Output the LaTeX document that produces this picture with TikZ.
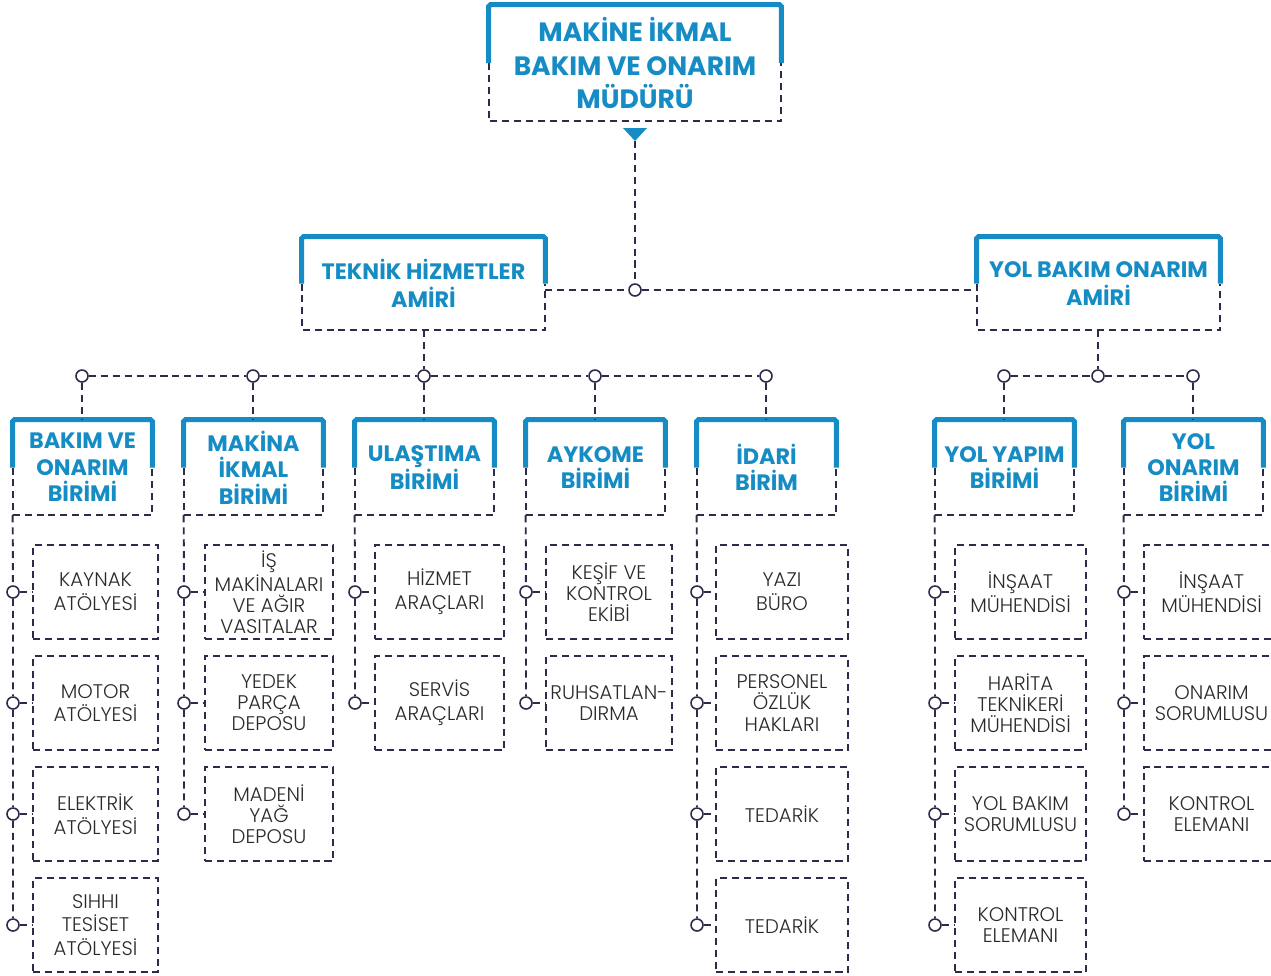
\documentclass[tikz,border=0pt]{standalone}
\usepackage{fontspec}
\setmainfont{Poppins}
\IfFontExistsTF{Poppins Light}{\newfontfamily\ince{Poppins Light}}{\newfontfamily\ince{Poppins}}
\usepackage{tikz}
\definecolor{Mavi}{HTML}{168CC5}
\definecolor{Cizgi}{HTML}{2D2A4A}
\definecolor{Yazi}{HTML}{2A2A2A}

% blue bracket on top, dashed frame below
\newcommand\birimframe[1]{%
  \draw [link] (#1.west) |- (#1.south) -| (#1.east);
  \draw [bar] (#1.west) |- (#1.north) -| (#1.east);
}

\begin{document}
\begin{tikzpicture}[x=0.02cm,y=-0.02cm,
  link/.style={draw=Cizgi,line width=1.1pt,dash pattern=on 4pt off 2.8pt},
  bar/.style={draw=Mavi,line width=2.8pt,rounded corners=1pt},
  dot/.style={circle,draw=Cizgi,fill=white,line width=0.9pt,minimum size=0.24cm,inner sep=0pt},
  head/.style={align=center,text=Mavi,font=\bfseries\fontsize{12.7}{15}\selectfont,minimum width=2.78cm,minimum height=1.9cm,inner sep=0pt},
  item/.style={link,align=center,text=Yazi,font=\ince\fontsize{11.2}{13.5}\selectfont,minimum width=2.54cm,minimum height=1.88cm,inner sep=0pt},
  tight/.style={font=\ince\fontsize{11.2}{12}\selectfont}
]
\clip (0,0) rectangle (1271,975);

% mudur
\node [head,font=\bfseries\fontsize{15.1}{19.3}\selectfont,minimum width=5.84cm,minimum height=2.32cm] (mudur) at (635,63) {MAKİNE İKMAL\\BAKIM VE ONARIM\\MÜDÜRÜ};
\birimframe{mudur}
\coordinate (tip) at (635,141);
\fill [Mavi] (623,128) -- (647,128) -- (tip) -- cycle;

% amirler
\node [head,font=\bfseries\fontsize{12.7}{16}\selectfont,minimum width=4.86cm,minimum height=1.86cm,text depth=-6pt] (teknik) at (423.5,283.5) {TEKNİK HİZMETLER\\AMİRİ};
\node [head,font=\bfseries\fontsize{12.7}{16}\selectfont,minimum width=4.86cm,minimum height=1.86cm,text depth=-6pt] (yolamir) at (1098.5,283.5) {YOL BAKIM ONARIM\\AMİRİ};
\birimframe{teknik}
\birimframe{yolamir}

\node [dot] (j0) at (635,290) {};
\draw [link] (tip) -- (j0);
\draw [link] (j0 -| teknik.east) -- (j0) -- (j0 -| yolamir.west);

% birimler
\node [head] (bakim) at (82.5,467.5) {BAKIM VE\\ONARIM\\BİRİMİ};
\node [head] (makina) at (253.5,467.5) {MAKİNA\\İKMAL\\BİRİMİ};
\node [head] (ulastima) at (424.5,467.5) {ULAŞTIMA\\BİRİMİ};
\node [head] (aykome) at (595.5,467.5) {AYKOME\\BİRİMİ};
\node [head] (idari) at (766.5,467.5) {İDARİ\\BİRİM};
\node [head] (yolyapim) at (1004.5,467.5) {YOL YAPIM\\BİRİMİ};
\node [head] (yolonarim) at (1193.5,467.5) {YOL\\ONARIM\\BİRİMİ};
\birimframe{bakim}
\birimframe{makina}
\birimframe{ulastima}
\birimframe{aykome}
\birimframe{idari}
\birimframe{yolyapim}
\birimframe{yolonarim}

\node [dot] (j1) at (82,376) {};
\node [dot] (j2) at (253,376) {};
\node [dot] (j3) at (424,376) {};
\node [dot] (j4) at (595,376) {};
\node [dot] (j5) at (766,376) {};
\draw [link] (j1) -- (j2) -- (j3) -- (j4) -- (j5);
\draw [link] (teknik.south -| j3) -- (j3);
\draw [link] (j1) -- (j1 |- bakim.north);
\draw [link] (j2) -- (j2 |- makina.north);
\draw [link] (j3) -- (j3 |- ulastima.north);
\draw [link] (j4) -- (j4 |- aykome.north);
\draw [link] (j5) -- (j5 |- idari.north);

\node [dot] (k1) at (1004,376) {};
\node [dot] (k2) at (1098,376) {};
\node [dot] (k3) at (1193,376) {};
\draw [link] (k1) -- (k2) -- (k3);
\draw [link] (yolamir.south -| k2) -- (k2);
\draw [link] (k1) -- (k1 |- yolyapim.north);
\draw [link] (k3) -- (k3 |- yolonarim.north);

% bakim ve onarim
\node [item,minimum width=2.5cm] (kaynak) at (95.5,592) {KAYNAK\\ATÖLYESİ};
\node [item,minimum width=2.5cm] (motor) at (95.5,703) {MOTOR\\ATÖLYESİ};
\node [item,minimum width=2.5cm] (elektrik) at (95.5,814) {ELEKTRİK\\ATÖLYESİ};
\node [item,minimum width=2.5cm] (sihhi) at (95.5,925) {SIHHI\\TESİSET\\ATÖLYESİ};
\node [dot] (b1) at (13,592) {};
\node [dot] (b2) at (13,703) {};
\node [dot] (b3) at (13,814) {};
\node [dot] (b4) at (13,925) {};
\draw [link] (bakim.south west) -- (b1) -- (b2) -- (b3) -- (b4);
\draw [link] (b1) -- (kaynak);
\draw [link] (b2) -- (motor);
\draw [link] (b3) -- (elektrik);
\draw [link] (b4) -- (sihhi);

% makina ikmal
\node [item,tight,minimum width=2.56cm] (ismak) at (269,592) {İŞ\\MAKİNALARI\\VE AĞIR\\VASITALAR};
\node [item,tight,minimum width=2.56cm] (yedek) at (269,703) {YEDEK\\PARÇA\\DEPOSU};
\node [item,tight,minimum width=2.56cm] (maden) at (269,814) {MADENİ\\YAĞ\\DEPOSU};
\node [dot] (m1) at (184,592) {};
\node [dot] (m2) at (184,703) {};
\node [dot] (m3) at (184,814) {};
\draw [link] (makina.south west) -- (m1) -- (m2) -- (m3);
\draw [link] (m1) -- (ismak);
\draw [link] (m2) -- (yedek);
\draw [link] (m3) -- (maden);

% ulastima
\node [item,minimum width=2.58cm] (hizmet) at (439.5,592) {HİZMET\\ARAÇLARI};
\node [item,minimum width=2.58cm] (servis) at (439.5,703) {SERVİS\\ARAÇLARI};
\node [dot] (u1) at (355,592) {};
\node [dot] (u2) at (355,703) {};
\draw [link] (ulastima.south west) -- (u1) -- (u2);
\draw [link] (u1) -- (hizmet);
\draw [link] (u2) -- (servis);

% aykome
\node [item,tight,minimum width=2.52cm] (kesif) at (609,592) {KEŞİF VE\\KONTROL\\EKİBİ};
\node [item,tight,minimum width=2.52cm] (ruhsat) at (609,703) {RUHSATLAN-\\DIRMA};
\node [dot] (a1) at (526,592) {};
\node [dot] (a2) at (526,703) {};
\draw [link] (aykome.south west) -- (a1) -- (a2);
\draw [link] (a1) -- (kesif);
\draw [link] (a2) -- (ruhsat);

% idari
\node [item,minimum width=2.64cm] (yazi) at (782,592) {YAZI\\BÜRO};
\node [item,tight,minimum width=2.64cm] (personel) at (782,703) {PERSONEL\\ÖZLÜK\\HAKLARI};
\node [item,minimum width=2.64cm] (tedarik) at (782,814) {TEDARİK};
\node [item,minimum width=2.64cm] (tedarikb) at (782,925) {TEDARİK};
\node [dot] (i1) at (697,592) {};
\node [dot] (i2) at (697,703) {};
\node [dot] (i3) at (697,814) {};
\node [dot] (i4) at (697,925) {};
\draw [link] (idari.south west) -- (i1) -- (i2) -- (i3) -- (i4);
\draw [link] (i1) -- (yazi);
\draw [link] (i2) -- (personel);
\draw [link] (i3) -- (tedarik);
\draw [link] (i4) -- (tedarikb);

% yol yapim
\node [item,minimum width=2.62cm] (insaat) at (1020.5,592) {İNŞAAT\\MÜHENDİSİ};
\node [item,tight,minimum width=2.62cm] (harita) at (1020.5,703) {HARİTA\\TEKNİKERİ\\MÜHENDİSİ};
\node [item,tight,minimum width=2.62cm] (yolbakim) at (1020.5,814) {YOL BAKIM\\SORUMLUSU};
\node [item,tight,minimum width=2.62cm] (kontrol) at (1020.5,925) {KONTROL\\ELEMANI};
\node [dot] (y1) at (935,592) {};
\node [dot] (y2) at (935,703) {};
\node [dot] (y3) at (935,814) {};
\node [dot] (y4) at (935,925) {};
\draw [link] (yolyapim.south west) -- (y1) -- (y2) -- (y3) -- (y4);
\draw [link] (y1) -- (insaat);
\draw [link] (y2) -- (harita);
\draw [link] (y3) -- (yolbakim);
\draw [link] (y4) -- (kontrol);

% yol onarim
\node [item,minimum width=2.7cm] (insaatb) at (1211.5,592) {İNŞAAT\\MÜHENDİSİ};
\node [item,tight,minimum width=2.7cm] (onarim) at (1211.5,703) {ONARIM\\SORUMLUSU};
\node [item,tight,minimum width=2.7cm] (kontrolb) at (1211.5,814) {KONTROL\\ELEMANI};
\node [dot] (o1) at (1124,592) {};
\node [dot] (o2) at (1124,703) {};
\node [dot] (o3) at (1124,814) {};
\draw [link] (yolonarim.south west) -- (o1) -- (o2) -- (o3);
\draw [link] (o1) -- (insaatb);
\draw [link] (o2) -- (onarim);
\draw [link] (o3) -- (kontrolb);

\end{tikzpicture}
\end{document}
